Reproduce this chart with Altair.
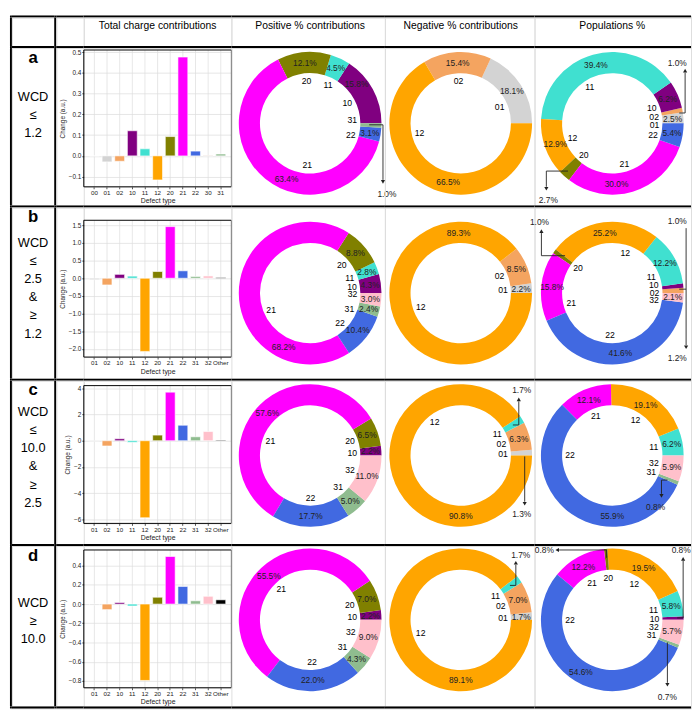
import math
import altair as alt
import pandas as pd

FONT = "Liberation Sans"

# ---------------- data ----------------
CAT_ORDER = ["00", "01", "02", "10", "11", "12", "20", "21", "22", "30", "31", "32", "Other"]
CAT_COLORS = ["#b0b0b0", "#d3d3d3", "#f4a460", "#800080", "#40e0d0", "#ffa500",
              "#808000", "#ff00ff", "#4169e1", "#a0522d", "#8fbc8f", "#ffc0cb", "#000000"]

HEADERS = ["Total charge contributions", "Positive % contributions",
           "Negative % contributions", "Populations %"]

ROW_LETTERS = ["a", "b", "c", "d"]
ROW_CONDITIONS = [["WCD", "≤", "1.2"],
                  ["WCD", "≤", "2.5", "&", "≥", "1.2"],
                  ["WCD", "≤", "10.0", "&", "≥", "2.5"],
                  ["WCD", "≥", "10.0"]]

BAR_CATS_A = ["00", "01", "02", "10", "11", "12", "20", "21", "22", "30", "31"]
BAR_CATS_BCD = ["01", "02", "10", "11", "12", "20", "21", "22", "31", "32", "Other"]
BAR_VALS_A = [0.0, -0.029, -0.026, 0.121, 0.034, -0.116, 0.093, 0.476, 0.023, 0.001, 0.009]
BAR_VALS_B = [-0.04, -0.19, 0.11, 0.06, -2.07, 0.19, 1.46, 0.21, 0.05, 0.065, 0.02]
BAR_VALS_C = [-0.05, -0.4, 0.15, -0.12, -5.87, 0.43, 3.7, 1.18, 0.3, 0.7, 0.05]
BAR_VALS_D = [-0.01, -0.058, 0.016, -0.02, -0.795, 0.071, 0.495, 0.183, 0.034, 0.081, 0.044]

Y_TICKS_A = [-0.1, 0.0, 0.1, 0.2, 0.3, 0.4, 0.5]
Y_TICKS_B = [-2.0, -1.5, -1.0, -0.5, 0.0, 0.5, 1.0, 1.5]
Y_TICKS_C = [-6, -4, -2, 0, 2, 4]
Y_TICKS_D = [-0.8, -0.6, -0.4, -0.2, 0.0, 0.2, 0.4]
Y_DOMAINS = [[-0.149, 0.51], [-2.23, 1.64], [-6.3, 4.2], [-0.871, 0.563]]

POS_CATS_A = ["10", "11", "20", "21", "22", "31"]
POS_VALS_A = [15.8, 4.5, 12.1, 63.4, 3.1, 1.0]
NEG_CATS_A = ["01", "02", "12"]
NEG_VALS_A = [18.1, 15.4, 66.5]
POP_CATS_A = ["01", "02", "10", "11", "12", "20", "21", "22"]
POP_VALS_A = [2.5, 1.0, 6.2, 39.4, 12.9, 2.7, 30.0, 5.4]

POS_CATS_B = ["10", "11", "20", "21", "22", "31", "32"]
POS_VALS_B = [4.3, 2.8, 8.8, 68.2, 10.4, 2.4, 3.0]
NEG_CATS_B = ["01", "02", "12"]
NEG_VALS_B = [2.2, 8.5, 89.3]
POP_CATS_B = ["02", "10", "11", "12", "20", "21", "22", "32"]
POP_VALS_B = [1.2, 1.0, 12.2, 25.2, 1.0, 15.8, 41.6, 2.1]

POS_CATS_C = ["10", "20", "21", "22", "31", "32"]
POS_VALS_C = [2.2, 6.5, 57.6, 17.7, 5.0, 11.0]
NEG_CATS_C = ["01", "02", "11", "12"]
NEG_VALS_C = [1.3, 6.3, 1.7, 90.8]
POP_CATS_C = ["11", "12", "21", "22", "31", "32"]
POP_VALS_C = [6.2, 19.1, 12.1, 55.9, 0.8, 5.9]

POS_CATS_D = ["10", "20", "21", "22", "31", "32"]
POS_VALS_D = [2.2, 7.0, 55.5, 22.0, 4.3, 9.0]
NEG_CATS_D = ["01", "02", "11", "12"]
NEG_VALS_D = [1.7, 7.0, 1.7, 89.1]
POP_CATS_D = ["10", "11", "12", "20", "21", "22", "31", "32"]
POP_VALS_D = [0.8, 5.8, 19.5, 0.8, 12.2, 54.6, 0.7, 5.7]

# slices whose percentage is written outside with a leader line
HIDDEN = {
    (0, 0): ["31"], (0, 2): ["02", "20"],
    (1, 2): ["02", "10", "20"],
    (2, 1): ["01", "11"], (2, 2): ["31"],
    (3, 1): ["11"], (3, 2): ["10", "20", "31"],
}

# ---------------- layout ----------------
COL_W = [2, 43, 2, 28, 150, 156, 152, 159]
ROW_HEIGHTS = [160, 174, 166, 163]
ROW_TOPS = [33, 195, 371, 539]
BLOCK_CENTERS = [68, 82, 78, 76.5]
HEADER_H = 29
LINE = 2
BAR_W = 150
BAR_GAPS = [2, 13, 5, 4]
BAR_HS = [139, 139, 140, 140]
DONUT_LEFT = [225, 381, 533]
DONUT_CX = [80, 77, 79]
DONUT_CY = [76.5, 87, 76, 75]
R_OUT, R_IN = 72.5, 51
R_CAT, R_PCT = 43, 61.5

# label directions (degrees, counter-clockwise from east) where the reference
# moved a label away from the middle of its slice: (percent label, category label)
LABEL_ANGLES = {
    (0, 0, "21"): (247, 266),
    (0, 0, "10"): (40, None),
    (0, 0, "31"): (None, 4),
    (0, 0, "22"): (None, -16),
    (0, 1, "12"): (258, 193),
    (0, 1, "01"): (None, 23),
    (0, 2, "10"): (None, 21),
    (0, 2, "02"): (None, 8.5),
    (0, 2, "01"): (None, -3),
    (0, 2, "22"): (None, -16),
    (0, 2, "11"): (None, 122),
    (0, 2, "21"): (274, None),
    (1, 0, "21"): (244, 203),
    (1, 0, "32"): (None, -1),
    (1, 0, "31"): (None, -22),
    (1, 0, "22"): (None, -45),
    (1, 1, "12"): (92, None),
    (1, 2, "10"): (None, 11),
    (1, 2, "02"): (None, 0),
    (1, 2, "32"): (None, -10),
    (1, 2, "11"): (None, 23),
    (1, 2, "12"): (None, 72),
    (1, 2, "21"): (None, 194),
    (1, 2, "22"): (None, 267),
    (2, 0, "21"): (None, 160),
    (2, 1, "12"): (270, 128),
    (2, 2, "22"): (270, 180),
    (3, 1, "12"): (270, None),
    (3, 2, "22"): (None, 180),
}

# leader-line annotations, in page pixels
ANNOTATIONS = {
    (0, 0): dict(texts=[("1.0%", 391, 189)],
                 segs=[(373, 119, 387, 119), (387, 119, 387, 175)],
                 arrows=[(387, 177, "triangle-down")]),
    (0, 2): dict(texts=[("1.0%", 686, 56), ("2.7%", 555, 195)],
                 segs=[(688, 107, 694, 107), (694, 107, 694, 66),
                       (575, 166, 553, 166), (553, 166, 553, 182)],
                 arrows=[(694, 64, "triangle-up"), (553, 184, "triangle-down")]),
    (1, 2): dict(texts=[("1.0%", 546, 218), ("1.0%", 686, 217), ("1.2%", 686, 356)],
                 segs=[(572, 252, 548, 252), (548, 252, 548, 229),
                       (688, 286, 695, 286), (695, 224, 695, 343)],
                 arrows=[(548, 227, "triangle-up"), (695, 345, "triangle-down")]),
    (2, 1): dict(texts=[("1.7%", 528, 389), ("1.3%", 528, 515)],
                 segs=[(519, 424, 525, 424), (525, 424, 525, 400),
                       (531, 456, 531, 502)],
                 arrows=[(525, 398, "triangle-up"), (531, 504, "triangle-down")]),
    (2, 2): dict(texts=[("0.8%", 664, 507)],
                 segs=[(676, 480, 670, 480), (670, 480, 670, 494)],
                 arrows=[(670, 496, "triangle-down")]),
    (3, 1): dict(texts=[("1.7%", 527, 556)],
                 segs=[(516, 587, 522, 587), (522, 587, 522, 566)],
                 arrows=[(522, 564, "triangle-up")]),
    (3, 2): dict(texts=[("0.8%", 551, 551), ("0.8%", 690, 551), ("0.7%", 676, 700)],
                 segs=[(614, 559, 614, 551), (614, 551, 566, 551),
                       (686, 620, 692, 620), (692, 620, 692, 562),
                       (676, 645, 676, 686)],
                 arrows=[(564, 551, "triangle-left"), (692, 560, "triangle-up"),
                         (676, 688, "triangle-down")]),
}

color_scale = alt.Scale(domain=CAT_ORDER, range=CAT_COLORS)
ONE = pd.DataFrame({"a": [0]})


def spacer(w, h):
    return alt.Chart(ONE).mark_point(opacity=0).encode(
        x=alt.value(0), y=alt.value(0)).properties(width=w, height=h)


def black(w, h):
    return alt.Chart(ONE).mark_rect(color="black").encode(
        x=alt.value(0), x2=alt.value(w), y=alt.value(0), y2=alt.value(h)
    ).properties(width=w, height=h)


def label_panel(r):
    letter, lines, h = ROW_LETTERS[r], ROW_CONDITIONS[r], ROW_HEIGHTS[r]
    w = COL_W[1]
    letter_c = alt.Chart(pd.DataFrame({"t": [letter]})).mark_text(
        fontSize=17, fontWeight="bold", font=FONT, color="black"
    ).encode(text="t:N", x=alt.value(w / 2), y=alt.value(10))
    n = len(lines)
    first = BLOCK_CENTERS[r] - (n - 1) * 18.5 / 2
    df = pd.DataFrame({"t": lines, "i": list(range(n))})
    lines_c = alt.Chart(df).transform_calculate(
        py=f"{first} + datum.i * 18.5"
    ).mark_text(fontSize=13, font=FONT, color="black").encode(
        text="t:N", x=alt.value(w / 2),
        y=alt.Y("py:Q", scale=None, axis=None))
    return alt.layer(letter_c, lines_c).properties(width=w, height=h)


def bar_panel(cats, vals, domain, ticks, fmt, gap, plot_h):
    df = pd.DataFrame({"cat": cats, "val": vals})
    xenc = alt.X("cat:N", sort=cats, title="Defect type",
                 scale=alt.Scale(paddingInner=0.22, paddingOuter=0.45),
                 axis=alt.Axis(labelAngle=0, bandPosition=0.5, grid=False, domain=False,
                               labelFontSize=6.3, titleFontSize=7, tickSize=2,
                               labelPadding=1, titlePadding=1, labelColor="#222",
                               titleColor="#222", titleFontWeight="normal",
                               tickColor="#555", labelFont=FONT, titleFont=FONT))
    yscale = alt.Scale(domain=domain, nice=False, range=[gap + plot_h, gap])
    vgrid = alt.Chart(df).mark_rule(color="#dcdcdc", strokeWidth=0.7).encode(
        x=xenc, y=alt.value(gap), y2=alt.value(gap + plot_h))
    bars = alt.Chart(df).mark_bar(stroke="white", strokeWidth=0.6).encode(
        x=xenc,
        y=alt.Y("val:Q", title="Change (a.u.)", scale=yscale,
                axis=alt.Axis(values=ticks, format=fmt, grid=True,
                              gridColor="#dcdcdc", gridWidth=0.7, domain=False,
                              labelFontSize=6.5, titleFontSize=6.5, tickSize=2,
                              labelPadding=1, titlePadding=3, labelColor="#222",
                              titleColor="#222", titleFontWeight="normal",
                              tickColor="#555", labelFont=FONT, titleFont=FONT)),
        color=alt.Color("cat:N", scale=color_scale, legend=None),
    )
    frame = alt.Chart(ONE).mark_rect(fillOpacity=0, stroke="black", strokeWidth=1).encode(
        x=alt.value(0), x2=alt.value(BAR_W), y=alt.value(gap), y2=alt.value(gap + plot_h))
    return alt.layer(vgrid, bars, frame).properties(width=BAR_W, height=gap + plot_h)


def ann_layers(key, left, top):
    a = ANNOTATIONS.get(key)
    if not a:
        return []
    ox, oy = 8 + left, 8 + top
    segs = pd.DataFrame([{"x1": x1 - ox, "y1": y1 - oy, "x2": x2 - ox, "y2": y2 - oy}
                         for (x1, y1, x2, y2) in a["segs"]])
    arrows = pd.DataFrame([{"x": x - ox, "y": y - oy, "s": s} for (x, y, s) in a["arrows"]])
    texts = pd.DataFrame([{"x": x - ox, "y": y - oy, "t": t} for (t, x, y) in a["texts"]])
    rule = alt.Chart(segs).mark_rule(color="#222", strokeWidth=0.9).encode(
        x=alt.X("x1:Q", scale=None, axis=None), y=alt.Y("y1:Q", scale=None, axis=None),
        x2="x2:Q", y2="y2:Q")
    heads = alt.Chart(arrows).mark_point(filled=True, size=18, color="#222", opacity=1).encode(
        x=alt.X("x:Q", scale=None, axis=None), y=alt.Y("y:Q", scale=None, axis=None),
        shape=alt.Shape("s:N", scale=None, legend=None))
    txt = alt.Chart(texts).mark_text(fontSize=8.5, font=FONT, color="#222").encode(
        x=alt.X("x:Q", scale=None, axis=None), y=alt.Y("y:Q", scale=None, axis=None),
        text="t:N")
    return [rule, heads, txt]


def to_vega_theta(deg):
    # degrees ccw from east -> radians clockwise from north
    return math.radians((90 - deg) % 360)


def donut_panel(row, col, cats, vals):
    hidden = HIDDEN.get((row, col), [])
    pct = ["" if c in hidden else f"{v:.1f}%" for c, v in zip(cats, vals)]
    total = float(sum(vals))
    pct_th, cat_th = [], []
    acc = 0.0
    for c, v in zip(cats, vals):
        mid = (acc + v / 2) / total * 360
        acc += v
        p_deg, c_deg = LABEL_ANGLES.get((row, col, c), (None, None))
        pct_th.append(to_vega_theta(mid if p_deg is None else p_deg))
        cat_th.append(to_vega_theta(mid if c_deg is None else c_deg))
    df = pd.DataFrame({"cat": cats, "val": vals, "idx": list(range(len(cats))),
                       "pct": pct, "pth": pct_th, "cth": cat_th})
    cx, cy = DONUT_CX[col], DONUT_CY[row]
    arcs = alt.Chart(df).mark_arc(outerRadius=R_OUT, innerRadius=R_IN).encode(
        theta=alt.Theta("val:Q", stack=True,
                        scale=alt.Scale(range=[2.5 * math.pi, 0.5 * math.pi])),
        order=alt.Order("idx:Q", sort="ascending"),
        color=alt.Color("cat:N", scale=color_scale, legend=None),
        x=alt.value(cx), y=alt.value(cy))
    cat_t = alt.Chart(df).mark_text(radius=R_CAT, fontSize=8.8, font=FONT, color="black").encode(
        theta=alt.Theta("cth:Q", scale=None), text="cat:N", x=alt.value(cx), y=alt.value(cy))
    pct_t = alt.Chart(df).mark_text(radius=R_PCT, fontSize=8.5, font=FONT, color="#222").encode(
        theta=alt.Theta("pth:Q", scale=None), text="pct:N", x=alt.value(cx), y=alt.value(cy))
    layers = [arcs, cat_t, pct_t] + ann_layers((row, col), DONUT_LEFT[col], ROW_TOPS[row])
    return alt.layer(*layers).resolve_scale(theta="independent").properties(
        width=COL_W[5 + col], height=ROW_HEIGHTS[row])


def hline_row():
    return [black(w, LINE) for w in COL_W]


def header_row():
    cells = [black(LINE, HEADER_H), spacer(COL_W[1], HEADER_H), black(LINE, HEADER_H),
             spacer(COL_W[3], HEADER_H)]
    centers = [BAR_W / 2] + DONUT_CX
    for text, w, cx in zip(HEADERS, COL_W[4:], centers):
        cells.append(alt.Chart(pd.DataFrame({"t": [text]})).mark_text(
            fontSize=10.5, font=FONT, color="black").encode(
            text="t:N", x=alt.value(cx), y=alt.value(9)).properties(width=w, height=HEADER_H))
    return cells


BAR_CATS = [BAR_CATS_A, BAR_CATS_BCD, BAR_CATS_BCD, BAR_CATS_BCD]
BAR_VALS = [BAR_VALS_A, BAR_VALS_B, BAR_VALS_C, BAR_VALS_D]
Y_TICKS = [Y_TICKS_A, Y_TICKS_B, Y_TICKS_C, Y_TICKS_D]
Y_FORMATS = [".1f", ".1f", "d", ".1f"]
DONUTS = [
    [(POS_CATS_A, POS_VALS_A), (NEG_CATS_A, NEG_VALS_A), (POP_CATS_A, POP_VALS_A)],
    [(POS_CATS_B, POS_VALS_B), (NEG_CATS_B, NEG_VALS_B), (POP_CATS_B, POP_VALS_B)],
    [(POS_CATS_C, POS_VALS_C), (NEG_CATS_C, NEG_VALS_C), (POP_CATS_C, POP_VALS_C)],
    [(POS_CATS_D, POS_VALS_D), (NEG_CATS_D, NEG_VALS_D), (POP_CATS_D, POP_VALS_D)],
]

cells = hline_row() + header_row() + hline_row()
for r in range(4):
    h = ROW_HEIGHTS[r]
    cells += [black(LINE, h), label_panel(r), black(LINE, h), spacer(COL_W[3], h),
              bar_panel(BAR_CATS[r], BAR_VALS[r], Y_DOMAINS[r], Y_TICKS[r],
                        Y_FORMATS[r], BAR_GAPS[r], BAR_HS[r])]
    for c in range(3):
        cats, vals = DONUTS[r][c]
        cells.append(donut_panel(r, c, cats, vals))
    cells += hline_row()

chart = alt.concat(*cells, columns=len(COL_W), spacing=0, bounds="flush").properties(padding=0)
chart = chart.configure_view(strokeWidth=0).configure(font=FONT)

chart.save("out.html", embed_options={"renderer": "svg", "actions": False})
